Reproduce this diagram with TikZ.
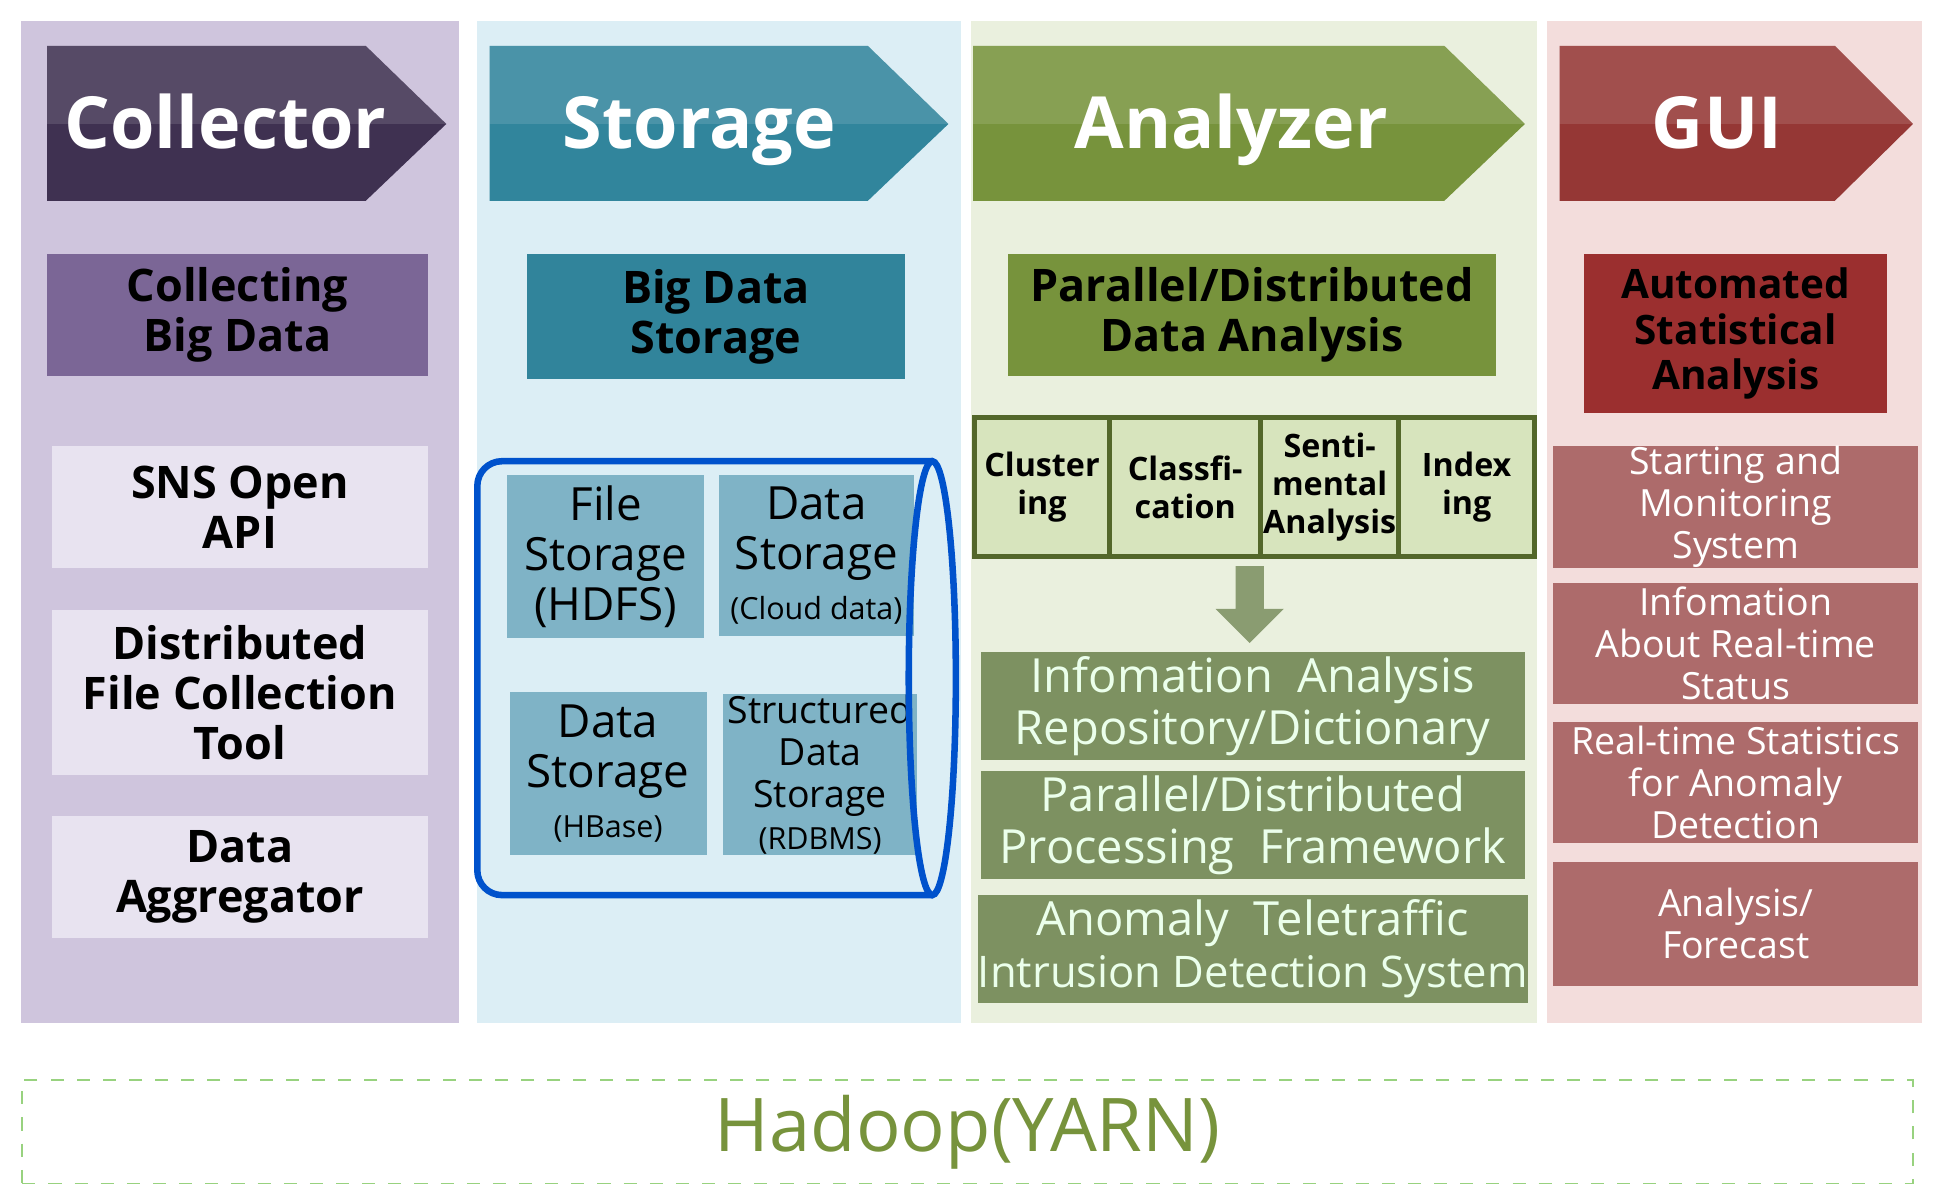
\documentclass[tikz,border=0pt]{standalone}
\usepackage{fontspec}
\setmainfont{Open Sans}
\usetikzlibrary{shapes.arrows}
\definecolor{colbg}{HTML}{CFC5DD}
\definecolor{stobg}{HTML}{DCEEF5}
\definecolor{anabg}{HTML}{EAF0DE}
\definecolor{guibg}{HTML}{F3DDDC}
\definecolor{coldark}{HTML}{3F3151}
\definecolor{stodark}{HTML}{31859C}
\definecolor{anadark}{HTML}{77933C}
\definecolor{guidark}{HTML}{953735}
\definecolor{colsub}{HTML}{7B6696}
\definecolor{stosub}{HTML}{31849B}
\definecolor{guisub}{HTML}{9B2F2F}
\definecolor{colitem}{HTML}{E8E3F0}
\definecolor{stoitem}{HTML}{7FB3C6}
\definecolor{anaitem}{HTML}{D7E4BD}
\definecolor{anabox}{HTML}{7D9161}
\definecolor{guiitem}{HTML}{AD6B6B}
\tikzset{
  head/.style={text=white,anchor=base,font=\bfseries\fontsize{16.5}{18}\selectfont},
  sub/.style={inner sep=0pt,align=center,font=\bfseries\fontsize{10.3}{11.5}\selectfont},
  item/.style={fill=colitem,inner sep=0pt,align=center,minimum width=3.03cm,
    font=\bfseries\fontsize{10.3}{11.5}\selectfont},
  sto/.style={fill=stoitem,inner sep=0pt,align=center,font=\fontsize{10.5}{11.5}\selectfont},
  tech/.style={fill=anaitem,draw=anadark!70!black,line width=1.2pt,inner sep=0pt,align=center,
    minimum height=1.12cm,font=\bfseries\fontsize{7.4}{8.8}\selectfont},
  anal/.style={fill=anabox,text=white!92!green,inner sep=0pt,align=center,minimum width=4.39cm,
    minimum height=0.87cm,font=\fontsize{10.8}{12}\selectfont},
  gitem/.style={fill=guiitem,text=white,inner sep=0pt,align=center,minimum width=2.94cm,
    minimum height=0.98cm,font=\fontsize{8.6}{9.6}\selectfont}
}
\newcommand\chev[4]{% x1 x2 xtip color
  \fill[#4] (#1,-0.37) -- (#2,-0.37) -- (#3,-1.0) -- (#2,-1.62) -- (#1,-1.62) -- cycle;
  \fill[white,opacity=0.12] (#1,-0.37) -- (#2,-0.37) -- (#3,-1.0) -- (#1,-1.0) -- cycle;
}
\begin{document}
\begin{tikzpicture}
\useasboundingbox (0,0) rectangle (15.6,-9.65);
% column backgrounds
\fill[colbg] (0.17,-0.17) rectangle (3.70,-8.25);
\fill[stobg] (3.85,-0.17) rectangle (7.75,-8.25);
\fill[anabg] (7.83,-0.17) rectangle (12.40,-8.25);
\fill[guibg] (12.48,-0.17) rectangle (15.50,-8.25);
% headers
\chev{0.38}{2.95}{3.60}{coldark}
\chev{3.95}{7.00}{7.65}{stodark}
\chev{7.85}{11.65}{12.30}{anadark}
\chev{12.58}{14.80}{15.43}{guidark}
\node[head] (hcol) at (1.82,-1.2) {Collector};
\node[head] (hsto) at (5.64,-1.2) {Storage};
\node[head] (hana) at (9.93,-1.2) {Analyzer};
\node[head] (hgui) at (13.85,-1.2) {GUI};
% collector
\node[sub,fill=colsub,minimum width=3.07cm,minimum height=0.98cm] (colsubn) at (1.915,-2.54) {Collecting\\Big Data};
\node[item,minimum height=0.98cm] (sns) at (1.935,-4.09) {SNS Open\\API};
\node[item,minimum height=1.33cm] (dfct) at (1.935,-5.585) {Distributed\\File Collection\\Tool};
\node[item,minimum height=0.99cm] (agg) at (1.935,-7.075) {Data\\Aggregator};
% storage
\node[sub,fill=stosub,minimum width=3.05cm,minimum height=1.01cm] (stosubn) at (5.775,-2.555) {Big Data\\Storage};
\draw[blue!60!cyan!80!black,line width=1.5pt] (7.52,-3.72) -- (4.05,-3.72) arc (90:180:0.2) -- (3.85,-7.02) arc (180:270:0.2) -- (7.52,-7.22);
\node[sto,minimum width=1.59cm,minimum height=1.32cm] (hdfs) at (4.885,-4.49) {File\\Storage\\(HDFS)};
\node[sto,minimum width=1.57cm,minimum height=1.30cm] (cloud) at (6.585,-4.48) {Data\\Storage\\{\fontsize{7}{8}\selectfont(Cloud data)}};
\node[sto,minimum width=1.59cm,minimum height=1.32cm] (hbase) at (4.905,-6.24) {Data\\Storage\\{\fontsize{7}{8}\selectfont(HBase)}};
\node[sto,minimum width=1.57cm,minimum height=1.30cm,font=\fontsize{8.6}{9.6}\selectfont] (rdbms) at (6.615,-6.25) {Structured\\Data\\Storage\\{\fontsize{7}{8}\selectfont(RDBMS)}};
\draw[blue!60!cyan!80!black,line width=1.5pt] (7.52,-5.47) ellipse (0.19 and 1.75);
% analyzer
\node[sub,fill=anadark,minimum width=3.94cm,minimum height=0.98cm,font=\bfseries\fontsize{10.3}{11.5}\selectfont] (anasubn) at (10.10,-2.54) {Parallel/Distributed\\Data Analysis};
\node[tech,minimum width=1.09cm] (clu) at (8.405,-3.93) {Cluster\\ing};
\node[tech,minimum width=1.22cm] (cla) at (9.56,-3.93) {Classfi-\\cation};
\node[tech,minimum width=1.11cm] (sen) at (10.725,-3.93) {Senti-\\mental\\Analysis};
\node[tech,minimum width=1.10cm] (idx) at (11.83,-3.93) {Index\\ing};
\node[single arrow,fill=anabox!90!white,shape border rotate=270,minimum height=0.62cm,
  minimum width=0.55cm,single arrow head extend=0.01cm,inner sep=0pt] (down) at (10.08,-4.82) {};
\node[anal] (repo) at (10.105,-5.695) {Infomation\ \ Analysis\\Repository/Dictionary};
\node[anal] (fw) at (10.105,-6.655) {Parallel/Distributed\\Processing\ \ Framework};
\node[anal] (ids) at (10.105,-7.655) {Anomaly\ \ Teletraffic\\{\fontsize{10}{11}\selectfont Intrusion\ Detection\ System}};
% gui
\node[sub,fill=guisub,minimum width=2.44cm,minimum height=1.28cm,font=\bfseries\fontsize{9.3}{10.5}\selectfont] (guisubn) at (14.0,-2.69) {Automated\\Statistical\\Analysis};
\node[gitem] (start) at (14.0,-4.09) {Starting and\\Monitoring\\System};
\node[gitem] (rts) at (14.0,-5.19) {Infomation\\About Real-time\\Status};
\node[gitem] (anom) at (14.0,-6.31) {Real-time Statistics\\for Anomaly\\Detection};
\node[gitem,minimum height=1.0cm] (fcst) at (14.0,-7.45) {Analysis/\\Forecast};
% hadoop
\node[draw=anadark!70!green!60,dashed,minimum width=15.25cm,minimum height=0.8cm,
  text=anadark,font=\fontsize{17}{19}\selectfont] (yarn) at (7.805,-9.13) {Hadoop(YARN)};
\end{tikzpicture}
\end{document}
